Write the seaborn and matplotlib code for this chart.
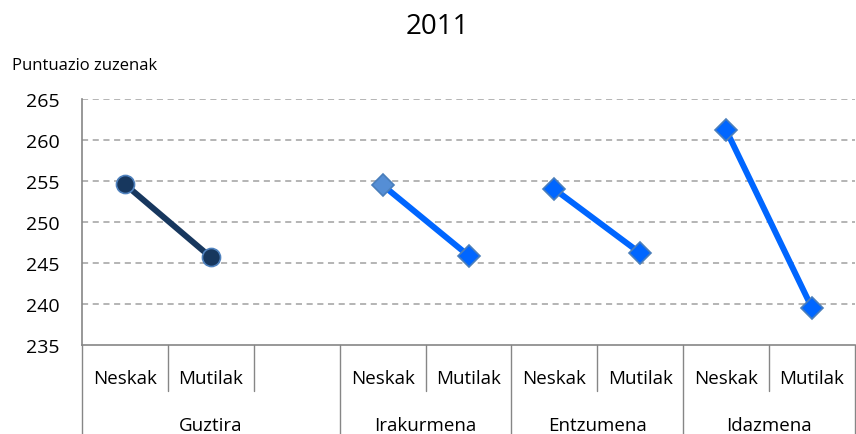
import matplotlib
matplotlib.use("Agg")
import matplotlib.pyplot as plt
import matplotlib.transforms as mtransforms
import seaborn as sns
import pandas as pd

# ---- data ----
categories = ["Neskak", "Mutilak", "", "Neskak", "Mutilak", "Neskak", "Mutilak", "Neskak", "Mutilak"]
groups = ["Guztira", "Irakurmena", "Entzumena", "Idazmena"]
group_spans = [(0, 3), (3, 5), (5, 7), (7, 9)]  # category index ranges
guztira = [254.6, 245.7]
irakurmena = [254.5, 245.9]
entzumena = [254.0, 246.2]
idazmena = [261.2, 239.5]
series_values = [guztira, irakurmena, entzumena, idazmena]
series_pos = [(0, 1), (3, 4), (5, 6), (7, 8)]
yticks = [235, 240, 245, 250, 255, 260, 265]

sns.set_style("white")
plt.rcParams["font.family"] = ["Open Sans", "DejaVu Sans"]
plt.rcParams["text.color"] = "black"
plt.rcParams["ytick.color"] = "black"

fig = plt.figure(figsize=(8.56, 4.35), dpi=100)
ax = fig.add_axes([82 / 856, 1 - 346 / 435, 773 / 856, (346 - 100) / 435])

line_colors = ["#17375E", "#0066FF", "#0066FF", "#0066FF"]
markers = ["o", "D", "D", "D"]
msizes = [13, 11, 11, 11]
for i, (vals, pos) in enumerate(zip(series_values, series_pos)):
    df = pd.DataFrame({"x": list(pos), "y": vals})
    sns.lineplot(data=df, x="x", y="y", ax=ax, color=line_colors[i], linewidth=4.3,
                 marker=None, zorder=3)
    for j, (xx, yy) in enumerate(zip(df["x"], df["y"])):
        fc = line_colors[i]
        ec = "#4F81BD" if i == 0 else "#4A7EBB"
        if i == 1 and j == 0:
            fc = "#558ED5"
        ax.plot([xx], [yy], marker=markers[i], markersize=msizes[i], markerfacecolor=fc,
                markeredgecolor=ec, markeredgewidth=1.2, zorder=4, linestyle="none")

ax.set_xlim(-0.5, 8.5)
ax.set_ylim(235, 265)
ax.set_yticks(yticks)
ax.set_yticklabels([str(t) for t in yticks], fontsize=14)
ax.set_xticks([])
ax.set_xlabel("")
ax.set_ylabel("")
for t in yticks[1:]:
    ax.axhline(t, color="#A0A0A0", linestyle=(0, (4, 3)), linewidth=1.1, zorder=1)

for s in ["top", "right"]:
    ax.spines[s].set_visible(False)
for s in ["left", "bottom"]:
    ax.spines[s].set_color("#868686")
    ax.spines[s].set_linewidth(1.2)
ax.tick_params(axis="y", length=5, color="#868686", width=1.2, pad=11, labelcolor="black")

# multi-level x axis
trans = mtransforms.blended_transform_factory(ax.transData, fig.transFigure)
y_axis = 1 - 346 / 435
y_mid = 1 - 392 / 435
y_bot = 0.0
group_bounds = [s for s, e in group_spans] + [9]
for k in range(10):
    xb = k - 0.5
    is_group = k in group_bounds
    ax.plot([xb, xb], [y_axis, y_bot if is_group else y_mid], transform=trans,
            color="#868686", linewidth=1.0, clip_on=False)
for k, lab in enumerate(categories):
    if lab:
        ax.text(k, 1 - 379 / 435, lab, transform=trans, ha="center", va="center",
                fontsize=13.5, color="black")
for g, (s, e) in zip(groups, group_spans):
    ax.text((s + e - 1) / 2, 1 - 426 / 435, g, transform=trans, ha="center",
            va="center", fontsize=13.5, color="black")

fig.text(437 / 856, 1 - 27 / 435, "2011", ha="center", va="center", fontsize=20, color="black")
fig.text(12 / 856, 1 - 66 / 435, "Puntuazio zuzenak", ha="left", va="center", fontsize=12,
         color="black")

fig.savefig("out.png", dpi=100)
